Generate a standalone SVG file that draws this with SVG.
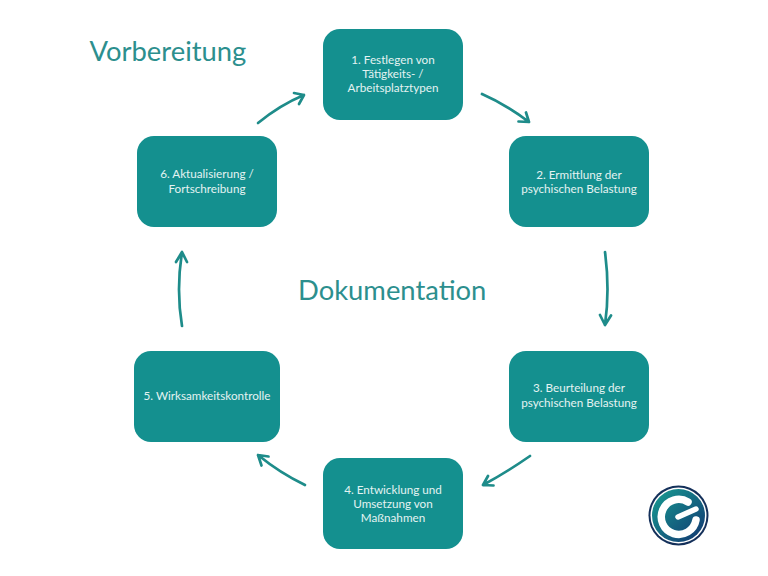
<svg xmlns="http://www.w3.org/2000/svg" width="768" height="576" viewBox="0 0 768 576">
<style>
.box{fill:#14908f}
.lbl{font-family:Lato,"Open Sans",sans-serif;font-size:11.7px;fill:#e4f3f2;text-anchor:middle}
.head{font-family:Lato,"Open Sans",sans-serif;font-size:27.400px;fill:#2c8f8e}
.arrow{fill:none;stroke:#1e8c8a;stroke-width:2.700;stroke-linecap:round;stroke-linejoin:round}
</style>
<defs>
<linearGradient id="disc" x1="0" y1="0" x2="1" y2="1">
<stop offset="0.100" stop-color="#17938f"/><stop offset="0.900" stop-color="#123f74"/>
</linearGradient>
</defs>
<rect width="768" height="576" fill="#fff"/>
<text class="head" x="89.500" y="61">Vorbereitung</text>
<text class="head" x="298" y="300">Dokumentation</text>
<g id="connectors">
<path class="arrow" d="M482 94Q507 105 529 122M518.500 121.500L529 122L526 112.500"/>
<path class="arrow" d="M605 252Q610 290 605 325M600 315L605 325L611 315.500"/>
<path class="arrow" d="M530 456Q507 472 483 485M493.500 485.500L483 485L488 476"/>
<path class="arrow" d="M305 485Q280 473 258 455M261.500 465.500L258 455L268.500 456.500"/>
<path class="arrow" d="M182 326Q176 290 182 252M176 262L182 252L187 262"/>
<path class="arrow" d="M258 123Q280 105 304 95M294 93L304 95L299 104"/>
</g>
<g id="node1"><rect class="box" x="323" y="29" width="140" height="91" rx="17"/>
<text class="lbl" x="393" y="64">1. Festlegen von</text><text class="lbl" x="393" y="78">Tätigkeits- /</text><text class="lbl" x="393" y="92">Arbeitsplatztypen</text></g>
<g id="node2"><rect class="box" x="509" y="136" width="140" height="91" rx="17"/>
<text class="lbl" x="579" y="179">2. Ermittlung der</text><text class="lbl" x="579" y="193">psychischen Belastung</text></g>
<g id="node3"><rect class="box" x="509" y="351" width="140" height="91" rx="17"/>
<text class="lbl" x="579" y="392">3. Beurteilung der</text><text class="lbl" x="579" y="407">psychischen Belastung</text></g>
<g id="node4"><rect class="box" x="323" y="458" width="140" height="91" rx="17"/>
<text class="lbl" x="393" y="494">4. Entwicklung und</text><text class="lbl" x="393" y="508">Umsetzung von</text><text class="lbl" x="393" y="522">Maßnahmen</text></g>
<g id="node5"><rect class="box" x="134" y="351" width="146" height="91" rx="17"/>
<text class="lbl" x="207" y="400">5. Wirksamkeitskontrolle</text></g>
<g id="node6"><rect class="box" x="137" y="136" width="140" height="91" rx="17"/>
<text class="lbl" x="207" y="178">6. Aktualisierung /</text><text class="lbl" x="207" y="193">Fortschreibung</text></g>
<!-- Round emblem: navy rim, white ring, gradient disc, white G -->
<g id="logo">
<circle cx="678.500" cy="515.500" r="30" fill="#14305a"/>
<circle cx="678.500" cy="515.500" r="28" fill="#fff"/>
<circle cx="678.500" cy="515.500" r="26.500" fill="url(#disc)"/>
<path d="M688 502A17.500 17.500 0 1 0 696 520" fill="none" stroke="#fff" stroke-width="7.500" stroke-linecap="round"/>
<path d="M678 517L696 509" fill="none" stroke="#fff" stroke-width="5.500" stroke-linecap="round"/>
</g>
</svg>
